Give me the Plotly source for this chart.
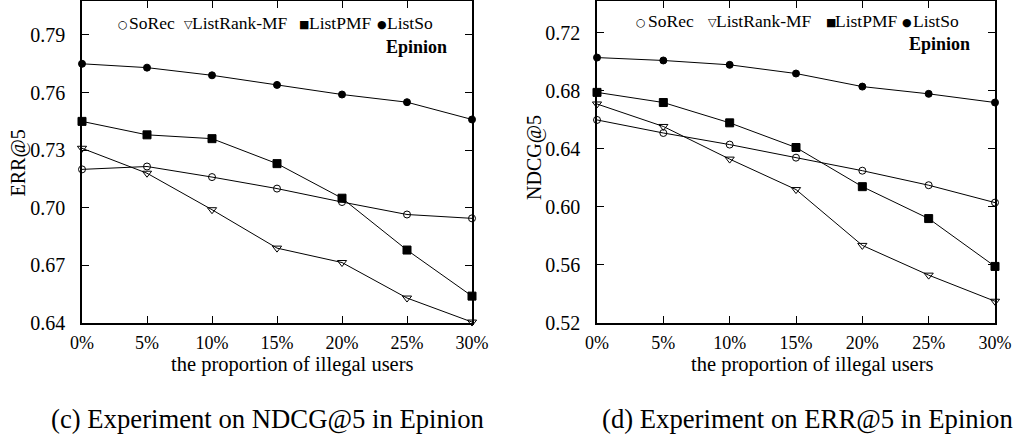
import plotly.graph_objects as go
from plotly.subplots import make_subplots

x_vals = [0, 5, 10, 15, 20, 25, 30]
x_labels = ["0%", "5%", "10%", "15%", "20%", "25%", "30%"]

series_names = ["SoRec", "ListRank-MF", "ListPMF", "ListSo"]

# Left panel: ERR@5
err_sorec = [0.720, 0.7215, 0.716, 0.710, 0.703, 0.6965, 0.6945]
err_listrank = [0.731, 0.718, 0.699, 0.679, 0.6715, 0.653, 0.6405]
err_listpmf = [0.745, 0.738, 0.736, 0.723, 0.705, 0.678, 0.654]
err_listso = [0.775, 0.773, 0.769, 0.764, 0.759, 0.755, 0.746]

# Right panel: NDCG@5
ndcg_sorec = [0.660, 0.651, 0.643, 0.634, 0.625, 0.615, 0.603]
ndcg_listrank = [0.671, 0.6555, 0.633, 0.612, 0.5735, 0.553, 0.535]
ndcg_listpmf = [0.679, 0.672, 0.658, 0.641, 0.614, 0.592, 0.559]
ndcg_listso = [0.703, 0.701, 0.698, 0.692, 0.683, 0.678, 0.672]

left_ticks = [0.64, 0.67, 0.70, 0.73, 0.76, 0.79]
right_ticks = [0.52, 0.56, 0.60, 0.64, 0.68, 0.72]

captions = ["(c) Experiment on NDCG@5 in Epinion", "(d) Experiment on ERR@5 in Epinion"]
y_titles = ["ERR@5", "NDCG@5"]
x_title = "the proportion of illegal users"
dataset = "Epinion"

symbols = ["circle-open", "triangle-down-open", "square", "circle"]
sizes = [7, 8, 8, 7]
glyphs = ["○", "▽", "■", "●"]

SERIF = "Liberation Serif, Times New Roman, serif"

fig = make_subplots(rows=1, cols=2)

for col, data in [(1, [err_sorec, err_listrank, err_listpmf, err_listso]),
                  (2, [ndcg_sorec, ndcg_listrank, ndcg_listpmf, ndcg_listso])]:
    for name, ys, sym, sz in zip(series_names, data, symbols, sizes):
        fig.add_trace(go.Scatter(
            x=x_vals, y=ys, name=name, mode="lines+markers",
            line=dict(color="black", width=1),
            marker=dict(symbol=sym, size=sz, color="black",
                        line=dict(color="black", width=1)),
            showlegend=False, cliponaxis=False,
        ), row=1, col=col)

W, H = 1015, 438
axis_common = dict(
    showline=True, linecolor="black", linewidth=1.5, mirror="ticks",
    ticks="inside", ticklen=7, tickwidth=1.2, tickcolor="black",
    showgrid=False, zeroline=False, automargin=False,
)

fig.update_xaxes(**axis_common, range=[0, 30], tickvals=x_vals, ticktext=x_labels,
                 ticklabelstandoff=3,
                 tickfont=dict(family=SERIF, size=18, color="black"))
fig.update_yaxes(**axis_common, ticklabelstandoff=11,
                 tickfont=dict(family=SERIF, size=20, color="black"))

fig.update_layout(
    width=W, height=H,
    margin=dict(l=0, r=0, t=0, b=0, autoexpand=False),
    paper_bgcolor="white", plot_bgcolor="white",
    xaxis=dict(domain=[82 / W, 472 / W]),
    xaxis2=dict(domain=[597 / W, 995 / W]),
    yaxis=dict(domain=[(H - 323) / H, (H - 1) / H], range=[0.64, 0.8077],
               tickvals=left_ticks, ticktext=[f"{v:.2f}" for v in left_ticks]),
    yaxis2=dict(domain=[(H - 323) / H, (H - 1) / H], range=[0.52, 0.742],
                tickvals=right_ticks, ticktext=[f"{v:.2f}" for v in right_ticks]),
)


def px_x(v):
    return v / W


def px_y(v):
    return 1 - v / H


ann = []

# legend entries: (glyph centre x, text left x) per panel, and row centre y
legend_layout = [
    ([(123, 129), (188, 192), (304, 309), (382, 387)], 23),
    ([(641, 648), (712, 716), (831, 835), (907, 913)], 21),
]
for entries, yc in legend_layout:
    for (gx, tx), g, n in zip(entries, glyphs, series_names):
        ann.append(dict(text=g, x=px_x(gx), y=px_y(yc + 1), xref="paper", yref="paper",
                        xanchor="center", yanchor="middle", showarrow=False,
                        font=dict(family="DejaVu Sans", size=11, color="black")))
        ann.append(dict(text=n, x=px_x(tx - 2), y=px_y(yc), xref="paper", yref="paper",
                        xanchor="left", yanchor="middle", showarrow=False,
                        font=dict(family=SERIF, size=17.5, color="black")))

for xr, yc in [(449, 47), (972, 44)]:
    ann.append(dict(text=f"<b>{dataset}</b>", x=px_x(xr), y=px_y(yc), xref="paper", yref="paper",
                    xanchor="right", yanchor="middle", showarrow=False,
                    font=dict(family=SERIF, size=18, color="black")))

# axis titles
for xc in [292, 812]:
    ann.append(dict(text=x_title, x=px_x(xc), y=px_y(364), xref="paper", yref="paper",
                    xanchor="center", yanchor="middle", showarrow=False,
                    font=dict(family=SERIF, size=20.5, color="black")))
for xc, yc, t in [(17.5, 163, y_titles[0]), (534, 158, y_titles[1])]:
    ann.append(dict(text=t, x=px_x(xc), y=px_y(yc), xref="paper", yref="paper",
                    xanchor="center", yanchor="middle", showarrow=False, textangle=-90,
                    font=dict(family=SERIF, size=20, color="black")))

# captions
for xl, cap in [(49, captions[0]), (600, captions[1])]:
    ann.append(dict(text=cap, x=px_x(xl), y=px_y(419), xref="paper", yref="paper",
                    xanchor="left", yanchor="middle", showarrow=False,
                    font=dict(family=SERIF, size=26.7, color="black")))
fig.update_layout(annotations=ann)

fig.write_html("out.html")
